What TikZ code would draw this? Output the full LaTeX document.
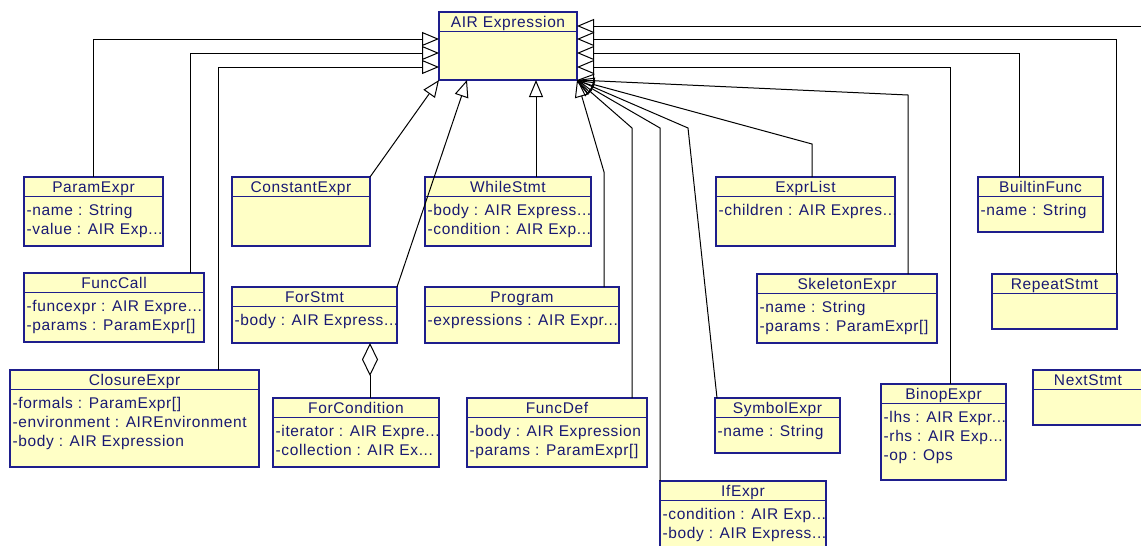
\documentclass[tikz,border=0pt]{standalone}
\usepackage{fontspec}
\usetikzlibrary{arrows.meta}
\newfontfamily\umlfont[LetterSpace=4]{Liberation Sans}
\definecolor{clsfill}{RGB}{255,255,198}
\definecolor{clsdraw}{RGB}{30,30,140}
\definecolor{clstext}{RGB}{25,25,115}
\newcommand\umlsize{\umlfont\fontsize{15.5}{17}\selectfont}
\newcommand\hdrh{19.5pt}
\tikzset{
  clsbox/.style={rectangle, draw=clsdraw, fill=clsfill, line width=1.1pt, inner sep=0pt, outer sep=0pt},
  clsline/.style={draw=clsdraw, line width=1.1pt},
  clstitle/.style={anchor=base, inner sep=0pt, text=clstext, font=\umlsize},
  clsattr/.style={anchor=base west, inner sep=0pt, text=clstext, font=\umlsize},
  inh/.style={draw=black, line width=1pt, -{Triangle[open, length=17pt, width=14pt]}},
  agg/.style={draw=black, line width=1pt, -{Diamond[open, length=33pt, width=16pt]}}
}
\newcommand\umlclass[6]{%
  \node[clsbox, minimum width=#4pt, minimum height=#5pt, anchor=north west] (#1) at (#2,#3) {};
  \draw[clsline] ([yshift=-\hdrh]#1.north west) -- ([yshift=-\hdrh]#1.north east);
  \node[clstitle] (#1-t) at ([yshift=-15.5pt]#1.north) {#6};
}
\newcommand\umlattr[3]{%
  \node[clsattr] (#1-a#2) at ([xshift=2.5pt,yshift={-19.5pt-18.5pt-(#2-1)*19pt}]#1.north west) {#3};
}
\begin{document}
\begin{tikzpicture}[x=1pt,y=-1pt]
\useasboundingbox (0,0) rectangle (1141,546);
% classes
\umlclass{AIR}{439}{12}{138}{68}{AIR Expression}
\umlclass{ParamExpr}{24}{177}{139}{69}{ParamExpr}
\umlattr{ParamExpr}{1}{-name : String}
\umlattr{ParamExpr}{2}{-value : AIR Exp...}
\umlclass{FuncCall}{24}{273}{180}{69}{FuncCall}
\umlattr{FuncCall}{1}{-funcexpr : AIR Expre...}
\umlattr{FuncCall}{2}{-params : ParamExpr[]}
\umlclass{ClosureExpr}{10}{370}{249}{97}{ClosureExpr}
\umlattr{ClosureExpr}{1}{-formals : ParamExpr[]}
\umlattr{ClosureExpr}{2}{-environment : AIREnvironment}
\umlattr{ClosureExpr}{3}{-body : AIR Expression}
\umlclass{ConstantExpr}{232}{177}{138}{69}{ConstantExpr}
\umlclass{WhileStmt}{425}{177}{166}{69}{WhileStmt}
\umlattr{WhileStmt}{1}{-body : AIR Express...}
\umlattr{WhileStmt}{2}{-condition : AIR Exp...}
\umlclass{ForStmt}{232}{287}{165}{56}{ForStmt}
\umlattr{ForStmt}{1}{-body : AIR Express...}
\umlclass{Program}{425}{287}{194}{56}{Program}
\umlattr{Program}{1}{-expressions : AIR Expr...}
\umlclass{ForCondition}{273}{398}{166}{69}{ForCondition}
\umlattr{ForCondition}{1}{-iterator : AIR Expre...}
\umlattr{ForCondition}{2}{-collection : AIR Ex...}
\umlclass{FuncDef}{467}{398}{180}{69}{FuncDef}
\umlattr{FuncDef}{1}{-body : AIR Expression}
\umlattr{FuncDef}{2}{-params : ParamExpr[]}
\umlclass{ExprList}{716}{177}{179}{69}{ExprList}
\umlattr{ExprList}{1}{-children : AIR Expres...}
\umlclass{SkeletonExpr}{757}{274}{180}{69}{SkeletonExpr}
\umlattr{SkeletonExpr}{1}{-name : String}
\umlattr{SkeletonExpr}{2}{-params : ParamExpr[]}
\umlclass{BuiltinFunc}{978}{177}{125}{55}{BuiltinFunc}
\umlattr{BuiltinFunc}{1}{-name : String}
\umlclass{RepeatStmt}{992}{274}{125}{55}{RepeatStmt}
\umlclass{SymbolExpr}{715}{398}{125}{55}{SymbolExpr}
\umlattr{SymbolExpr}{1}{-name : String}
\umlclass{BinopExpr}{881}{384}{125}{96}{BinopExpr}
\umlattr{BinopExpr}{1}{-lhs : AIR Expr...}
\umlattr{BinopExpr}{2}{-rhs : AIR Exp...}
\umlattr{BinopExpr}{3}{-op : Ops}
\umlclass{NextStmt}{1033}{370}{110}{55}{NextStmt}
\umlclass{IfExpr}{660}{481}{166}{80}{IfExpr}
\umlattr{IfExpr}{1}{-condition : AIR Exp...}
\umlattr{IfExpr}{2}{-body : AIR Express...}
% bend points
\coordinate (lP) at (93,39);
\coordinate (lF) at (190,53);
\coordinate (lC) at (218,67);
\coordinate (rN) at (1160,26);
\coordinate (rR) at (1116,39);
\coordinate (rB) at (1019,53);
\coordinate (rO) at (950,67);
\coordinate (rS) at (908,95);
\coordinate (rE) at (812,144);
\coordinate (rY) at (688,128);
\coordinate (rI) at (660,128);
\coordinate (rD) at (632,128);
\coordinate (rP) at (604,172);
\coordinate (bF) at (467,0);
\coordinate (bW) at (536,0);
\coordinate (aF) at (370,0);
% left connectors
\draw[inh] (ParamExpr.north -| lP) -- (lP) -- (AIR.west |- lP);
\draw[inh] (FuncCall.north -| lF) -- (lF) -- (AIR.west |- lF);
\draw[inh] (ClosureExpr.north -| lC) -- (lC) -- (AIR.west |- lC);
% right connectors
\draw[inh] (rN) -- (AIR.east |- rN);
\draw[inh] (RepeatStmt.north -| rR) -- (rR) -- (AIR.east |- rR);
\draw[inh] (BuiltinFunc.north -| rB) -- (rB) -- (AIR.east |- rB);
\draw[inh] (BinopExpr.north -| rO) -- (rO) -- (AIR.east |- rO);
% converging at bottom right corner
\draw[inh] (SkeletonExpr.north -| rS) -- (rS) -- (AIR.south east);
\draw[inh] (ExprList.north -| rE) -- (rE) -- (AIR.south east);
\draw[inh] ([xshift=2pt]SymbolExpr.north west) -- (rY) -- (AIR.south east);
\draw[inh] (IfExpr.north west) -- (rI) -- (AIR.south east);
\draw[inh] (FuncDef.north -| rD) -- (rD) -- (AIR.south east);
\draw[inh] (Program.north -| rP) -- (rP) -- (AIR.south east);
% bottom connectors
\draw[inh] (ConstantExpr.north east) -- (AIR.south west);
\draw[inh] (ForStmt.north east) -- (AIR.south -| bF);
\draw[inh] (WhileStmt.north -| bW) -- (AIR.south -| bW);
% aggregation
\draw[agg] (ForCondition.north -| aF) -- (ForStmt.south -| aF);
\end{tikzpicture}
\end{document}
